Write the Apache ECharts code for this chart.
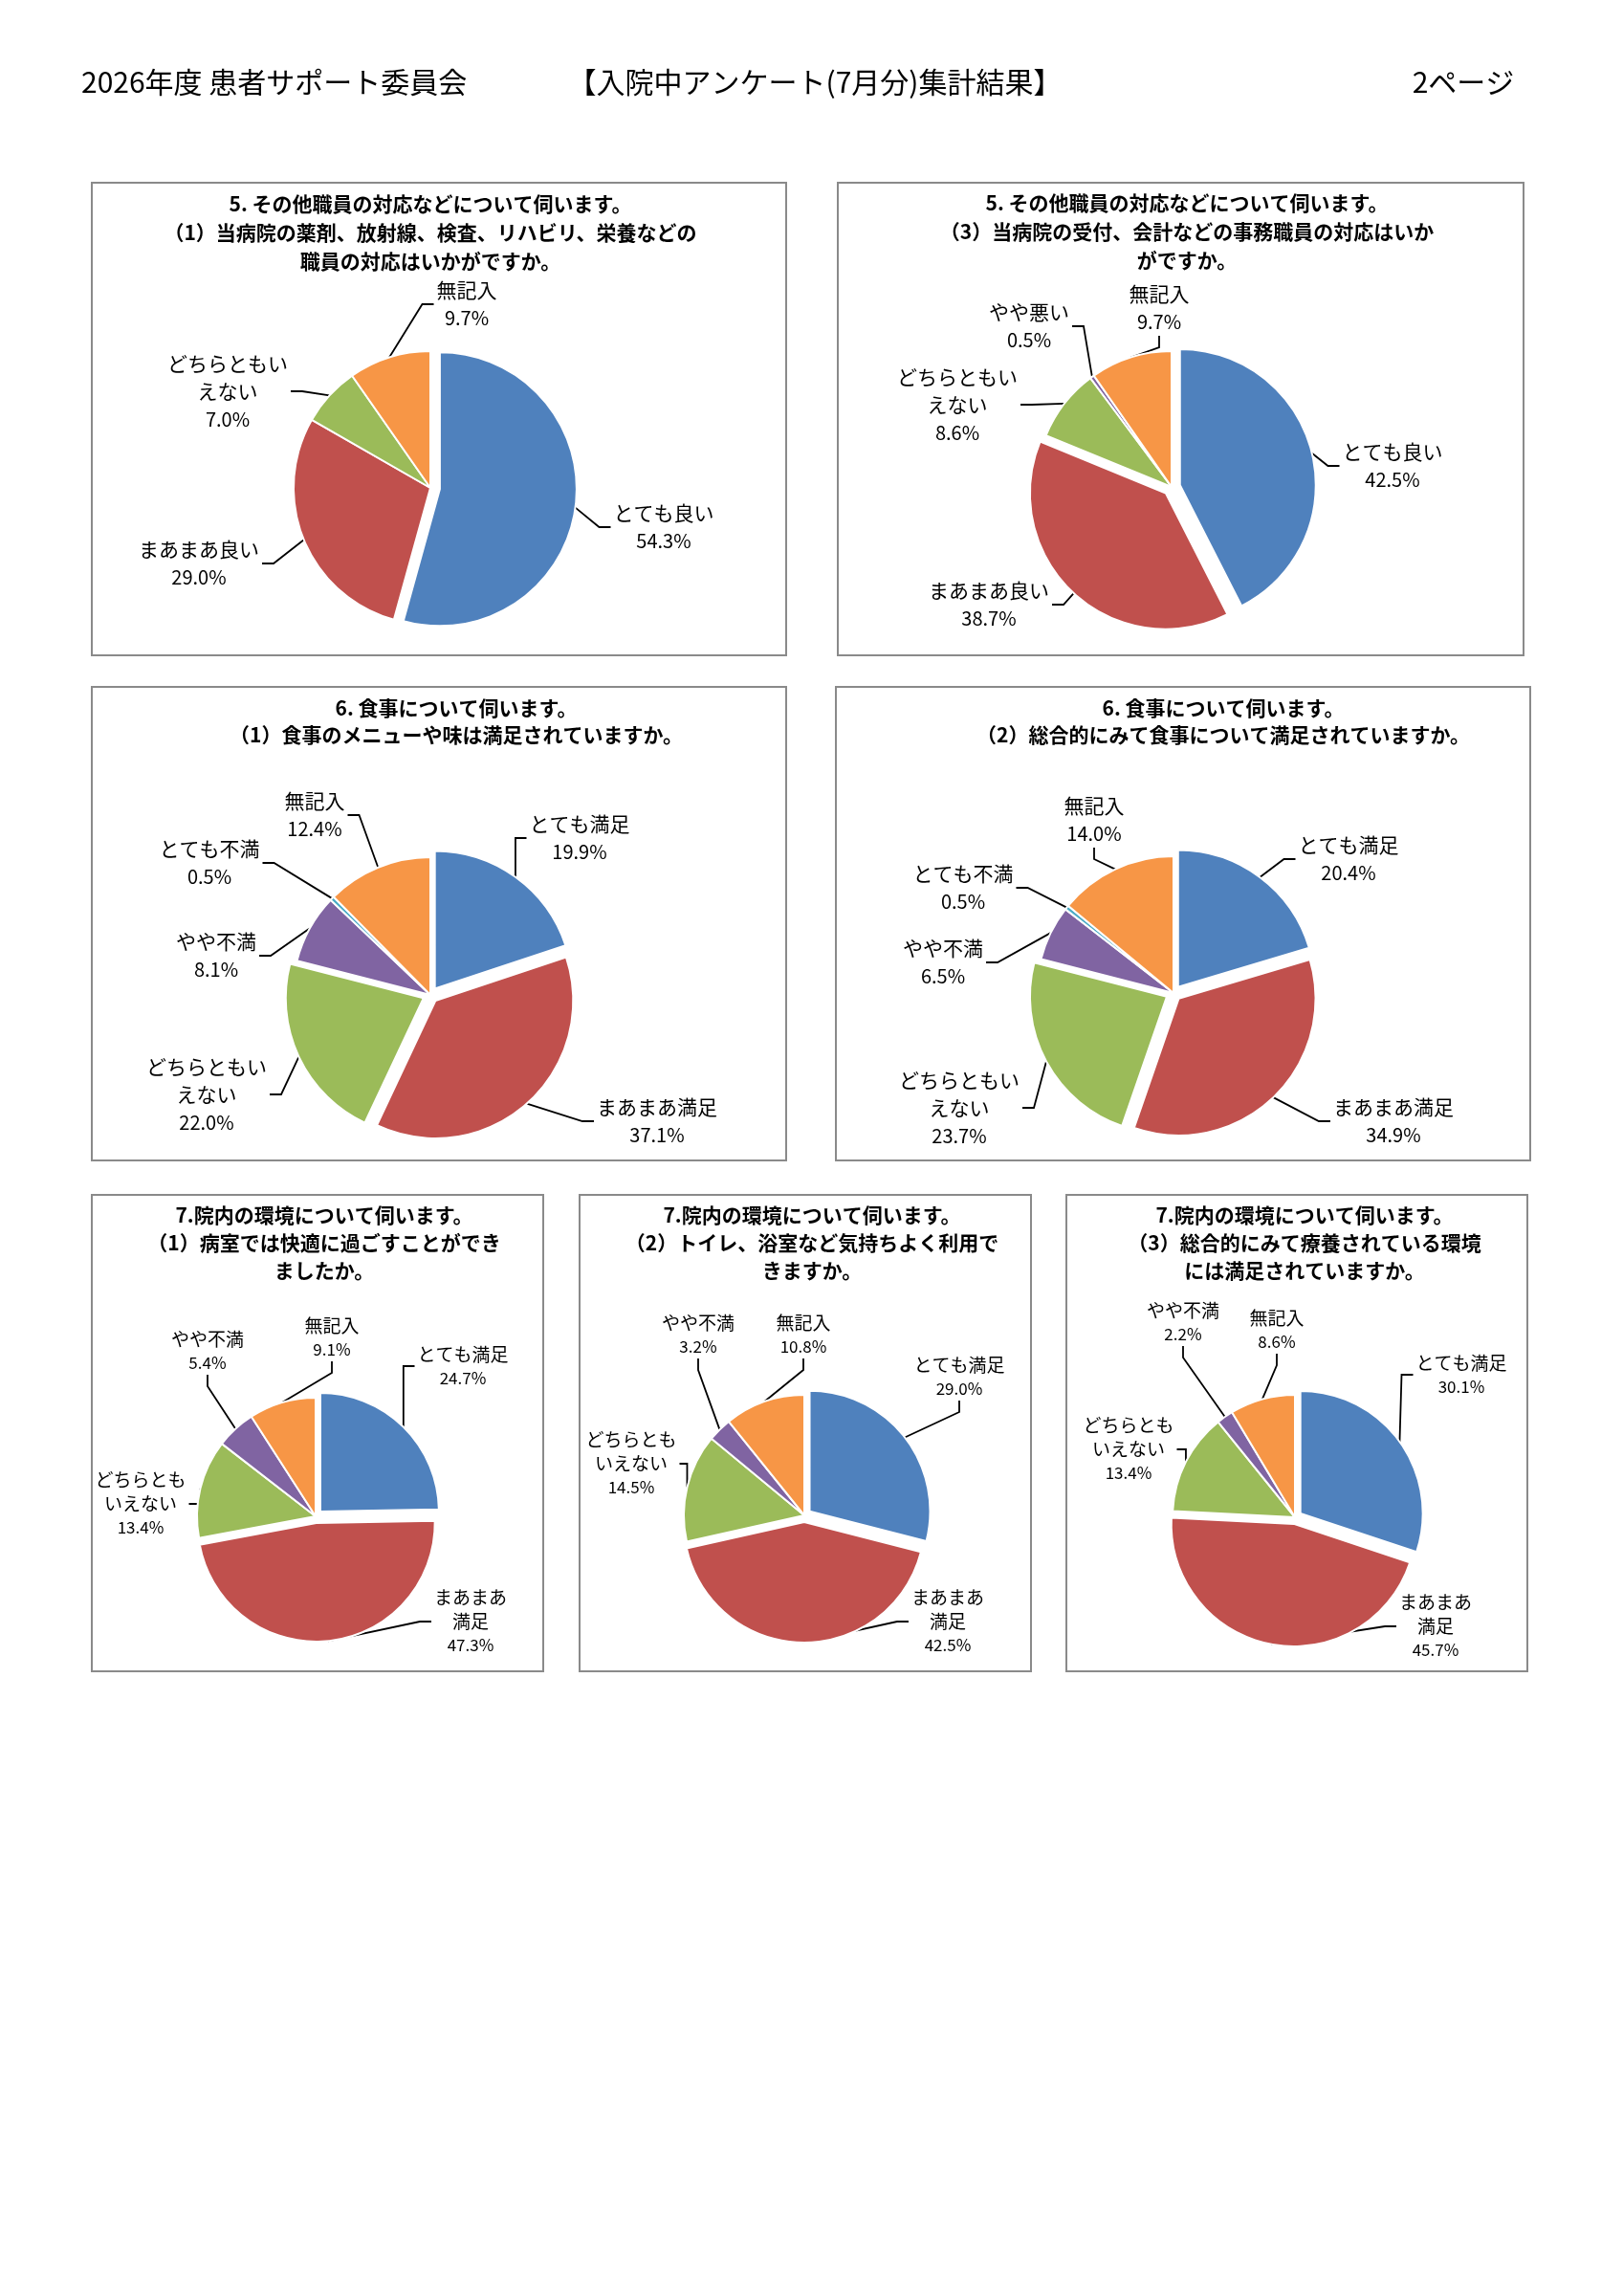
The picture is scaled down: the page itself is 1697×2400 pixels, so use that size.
<!DOCTYPE html>
<html>
<head>
<meta charset="utf-8">
<title>入院中アンケート集計結果</title>
<script src="https://cdn.jsdelivr.net/npm/echarts@6/dist/echarts.min.js"></script>
<style>
  html, body { margin: 0; padding: 0; background: #fff; }
  #main { width: 1697px; height: 2400px; }
</style>
</head>
<body>
<div id="main"></div>
<script>
// ===== データ（グラフから読み取った割合 %） =====
var q5_1_names = ['とても良い', 'まあまあ良い', 'どちらともいえない', '無記入'];
var q5_1_values = [54.3, 29.0, 7.0, 9.7];

var q5_3_names = ['とても良い', 'まあまあ良い', 'どちらともいえない', 'やや悪い', '無記入'];
var q5_3_values = [42.5, 38.7, 8.6, 0.5, 9.7];

var q6_1_names = ['とても満足', 'まあまあ満足', 'どちらともいえない', 'やや不満', 'とても不満', '無記入'];
var q6_1_values = [19.9, 37.1, 22.0, 8.1, 0.5, 12.4];

var q6_2_names = ['とても満足', 'まあまあ満足', 'どちらともいえない', 'やや不満', 'とても不満', '無記入'];
var q6_2_values = [20.4, 34.9, 23.7, 6.5, 0.5, 14.0];

var q7_1_names = ['とても満足', 'まあまあ満足', 'どちらともいえない', 'やや不満', '無記入'];
var q7_1_values = [24.7, 47.3, 13.4, 5.4, 9.1];

var q7_2_names = ['とても満足', 'まあまあ満足', 'どちらともいえない', 'やや不満', '無記入'];
var q7_2_values = [29.0, 42.5, 14.5, 3.2, 10.8];

var q7_3_names = ['とても満足', 'まあまあ満足', 'どちらともいえない', 'やや不満', '無記入'];
var q7_3_values = [30.1, 45.7, 13.4, 2.2, 8.6];

// タイトル文
var q5_1_title = '5. その他職員の対応などについて伺います。\n（1）当病院の薬剤、放射線、検査、リハビリ、栄養などの\n職員の対応はいかがですか。';
var q5_3_title = '5. その他職員の対応などについて伺います。\n（3）当病院の受付、会計などの事務職員の対応はいか\nがですか。';
var q6_1_title = '6. 食事について伺います。\n（1）食事のメニューや味は満足されていますか。';
var q6_2_title = '6. 食事について伺います。\n（2）総合的にみて食事について満足されていますか。';
var q7_1_title = '7.院内の環境について伺います。\n（1）病室では快適に過ごすことができ\nましたか。';
var q7_2_title = '7.院内の環境について伺います。\n（2）トイレ、浴室など気持ちよく利用で\nきますか。';
var q7_3_title = '7.院内の環境について伺います。\n（3）総合的にみて療養されている環境\nには満足されていますか。';

// ===== 色（Excel標準色） =====
var colorOf = {
    'とても良い': '#4F81BD', 'とても満足': '#4F81BD',
    'まあまあ良い': '#C0504D', 'まあまあ満足': '#C0504D',
    'どちらともいえない': '#9BBB59',
    'やや悪い': '#8064A2', 'やや不満': '#8064A2',
    'とても不満': '#4BACC6',
    '無記入': '#F79646'
};
// ラベルの改行位置
var wrapTop = { 'どちらともいえない': 'どちらともい\nえない' };
var wrapBottom = { 'どちらともいえない': 'どちらとも\nいえない', 'まあまあ満足': 'まあまあ\n満足' };

// ===== 配置 =====
var layouts = [
    { names: q5_1_names, values: q5_1_values, title: q5_1_title,
      box: [96, 191, 726, 494], center: [450, 510], r: 143, off: 10, explode: [0],
      tx: 450, ty: 198, tfs: 21, tlh: 30, fs: 21, pfs: 20, lh: 29, wrap: wrapTop,
      labels: [[694, 551], [208, 589], [238, 409], [488, 318]] },
    { names: q5_3_names, values: q5_3_values, title: q5_3_title,
      box: [876, 191, 717, 494], center: [1225, 509], r: 142, off: 9, explode: [0, 1],
      tx: 1241, ty: 197, tfs: 21, tlh: 30, fs: 21, pfs: 20, lh: 29, wrap: wrapTop,
      labels: [[1456, 487], [1034, 632], [1001, 423], [1076, 341], [1212, 322]] },
    { names: q6_1_names, values: q6_1_values, title: q6_1_title,
      box: [96, 718, 726, 495], center: [450, 1040], r: 144, off: 8, explode: [0, 1, 2],
      tx: 477, ty: 726, tfs: 21, tlh: 28, fs: 21, pfs: 20, lh: 29, wrap: wrapTop,
      labels: [[606, 876], [687, 1172], [216, 1144], [226, 999], [219, 902], [329, 852]] },
    { names: q6_2_names, values: q6_2_values, title: q6_2_title,
      box: [874, 718, 726, 495], center: [1227, 1038], r: 143, off: 8, explode: [0, 1, 2],
      tx: 1279, ty: 726, tfs: 21, tlh: 28, fs: 21, pfs: 20, lh: 29, wrap: wrapTop,
      labels: [[1410, 898], [1457, 1172], [1003, 1158], [986, 1006], [1007, 928], [1144, 857]] },
    { names: q7_1_names, values: q7_1_values, title: q7_1_title,
      box: [96, 1249, 472, 498], center: [330, 1585], r: 124, off: 7, explode: [0, 1],
      tx: 339, ty: 1256, tfs: 21, tlh: 29, fs: 19, pfs: 17, lh: 25, wrap: wrapBottom,
      labels: [[484, 1428], [492, 1695], [147, 1572], [217, 1412], [347, 1398]] },
    { names: q7_2_names, values: q7_2_values, title: q7_2_title,
      box: [606, 1249, 472, 498], center: [841, 1584], r: 126, off: 7, explode: [0, 1],
      tx: 849, ty: 1256, tfs: 21, tlh: 29, fs: 19, pfs: 17, lh: 25, wrap: wrapBottom,
      labels: [[1003, 1439], [991, 1695], [660, 1530], [730, 1395], [840, 1395]] },
    { names: q7_3_names, values: q7_3_values, title: q7_3_title,
      box: [1115, 1249, 482, 498], center: [1354, 1586], r: 128, off: 7, explode: [0, 1],
      tx: 1364, ty: 1256, tfs: 21, tlh: 29, fs: 19, pfs: 17, lh: 25, wrap: wrapBottom,
      labels: [[1528, 1437], [1501, 1700], [1180, 1515], [1237, 1382], [1335, 1390]] }
];

var FONT = '"Noto Sans CJK JP", "Noto Sans", sans-serif';

// 切り出し（Excelの要素の切り出し）を再現するため、1要素ずつ別のpieにして中心をずらす
function makeSlices(lay) {
    var total = lay.values.reduce(function (a, b) { return a + b; }, 0);
    var acc = 0;
    return lay.values.map(function (v, k) {
        var mid = (acc + v / 2) / total * Math.PI * 2; // 12時から時計回りの角度
        acc += v;
        var off = lay.explode.indexOf(k) >= 0 ? lay.off : 0;
        return {
            type: 'pie',
            center: [lay.center[0] + off * Math.sin(mid), lay.center[1] - off * Math.cos(mid)],
            radius: lay.r,
            startAngle: 90,
            clockwise: true,
            avoidLabelOverlap: false,
            silent: true,
            itemStyle: { borderColor: '#fff', borderWidth: 2 },
            label: {
                show: true,
                color: '#000',
                fontFamily: FONT,
                lineHeight: lay.lh,
                align: 'center',
                padding: [0, 3],
                formatter: function (p) {
                    var n = (lay.wrap[p.name] || p.name).split('\n').map(function (s) { return '{n|' + s + '}'; }).join('\n');
                    return n + '\n{p|' + p.value.toFixed(1) + '%}';
                },
                rich: {
                    n: { fontFamily: FONT, fontSize: lay.fs, lineHeight: lay.lh, color: '#000' },
                    p: { fontFamily: FONT, fontSize: lay.pfs, lineHeight: lay.lh, color: '#000' }
                }
            },
            labelLine: {
                show: true,
                length: 10,
                length2: 12,
                lineStyle: { color: '#000', width: 1.8 }
            },
            labelLayout: function (p) {
                var q = lay.labels[p.dataIndex];
                return { x: q[0], y: q[1], align: 'center', verticalAlign: 'middle' };
            },
            data: lay.names.map(function (n, i) {
                return {
                    name: n,
                    value: lay.values[i],
                    itemStyle: { color: colorOf[n], opacity: i === k ? 1 : 0 },
                    label: { show: i === k },
                    labelLine: { show: i === k }
                };
            })
        };
    });
}

var hdStyle = { fontFamily: FONT, fontSize: 30, fontWeight: 'normal', color: '#000', lineHeight: 34 };
var titles = [
    { text: '2026年度 患者サポート委員会', left: 85, top: 69, padding: 0, textStyle: hdStyle },
    { text: '【入院中アンケート(7月分)集計結果】', left: 852, top: 69, padding: 0, textAlign: 'center', textStyle: hdStyle },
    { text: '2ページ', left: 1530, top: 69, padding: 0, textAlign: 'center', textStyle: hdStyle }
];
var boxes = [];
var series = [];

layouts.forEach(function (lay) {
    titles.push({
        text: lay.title, left: lay.tx, top: lay.ty, padding: 0, textAlign: 'center',
        textStyle: { fontFamily: FONT, fontSize: lay.tfs, fontWeight: 'bold', color: '#000', lineHeight: lay.tlh }
    });
    boxes.push({
        type: 'rect',
        shape: { x: lay.box[0], y: lay.box[1], width: lay.box[2], height: lay.box[3] },
        style: { fill: null, stroke: '#8a8a8a', lineWidth: 2 },
        z: -1
    });
    series = series.concat(makeSlices(lay));
});

var chartDom = document.getElementById('main');
var myChart = echarts.init(chartDom);
var option = {
    animation: false,
    backgroundColor: '#fff',
    textStyle: { fontFamily: FONT },
    title: titles,
    graphic: boxes,
    series: series
};
myChart.setOption(option);
</script>
</body>
</html>
